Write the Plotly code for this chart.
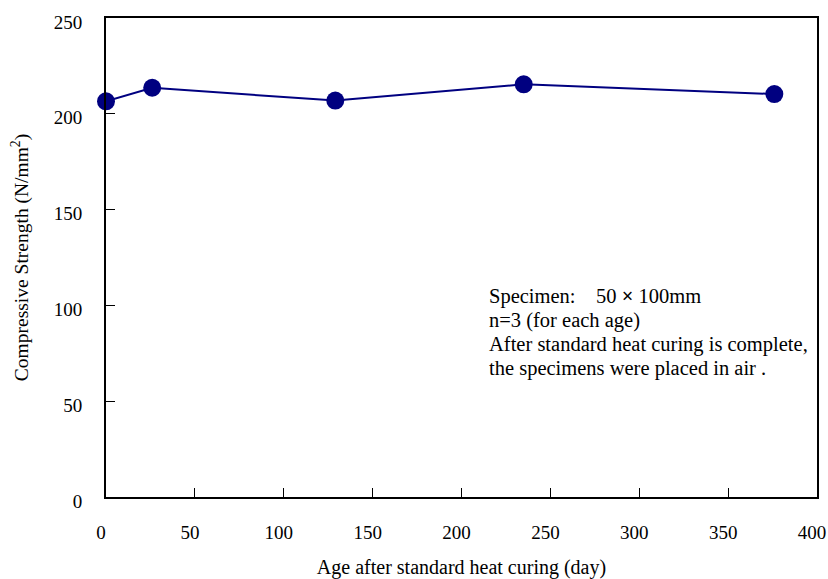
import plotly.graph_objects as go

age_days = [0, 26, 129, 235, 376]
strength = [206.5, 213.6, 206.9, 215.4, 210.3]
x_ticks = [0, 50, 100, 150, 200, 250, 300, 350, 400]
y_ticks = [0, 50, 100, 150, 200, 250]
note_lines = [
    "Specimen:&nbsp;&nbsp;&nbsp; 50 <b>×</b> 100mm",
    "n=3 (for each age)",
    "After standard heat curing is complete,",
    "the specimens were placed in air .",
]

FONT = "Liberation Serif, Times New Roman, serif"

fig = go.Figure()
fig.add_trace(go.Scatter(
    x=age_days, y=strength, mode="lines+markers",
    line=dict(color="#000080", width=2),
    marker=dict(color="#000080", size=18),
    cliponaxis=False, showlegend=False,
))

for i, t in enumerate(note_lines):
    fig.add_annotation(
        x=214.5, y=104.8 - i * 12.6, xref="x", yref="y",
        text=t, showarrow=False, xanchor="left", yanchor="middle",
        font=dict(family=FONT, size=20.5, color="black"),
    )

axis_common = dict(
    showgrid=False, zeroline=False, showline=True, linecolor="black",
    linewidth=2, mirror=True, ticks="inside", ticklen=9, tickwidth=1,
    tickcolor="black", tickfont=dict(family=FONT, size=19, color="black"),
    ticklabeloverflow="allow", automargin=False,
)

fig.update_xaxes(
    range=[0, 400], tickvals=x_ticks, ticklabelstandoff=17,
    ticklabelshift=-5,
    title=dict(text="Age after standard heat curing (day)",
               font=dict(family=FONT, size=20, color="black"), standoff=20),
    **axis_common,
)
fig.update_yaxes(
    range=[0, 250], tickvals=y_ticks, ticklabelstandoff=18,
    ticklabelshift=4,
    title=dict(text="Compressive Strength (N/mm<sup>2</sup>)",
               font=dict(family=FONT, size=19.5, color="black"), standoff=20),
    **axis_common,
)

fig.update_layout(
    width=828, height=579,
    margin=dict(l=106, r=11, t=18, b=82),
    paper_bgcolor="white", plot_bgcolor="white",
    font=dict(family=FONT, color="black"),
)

fig.write_html("out.html")
